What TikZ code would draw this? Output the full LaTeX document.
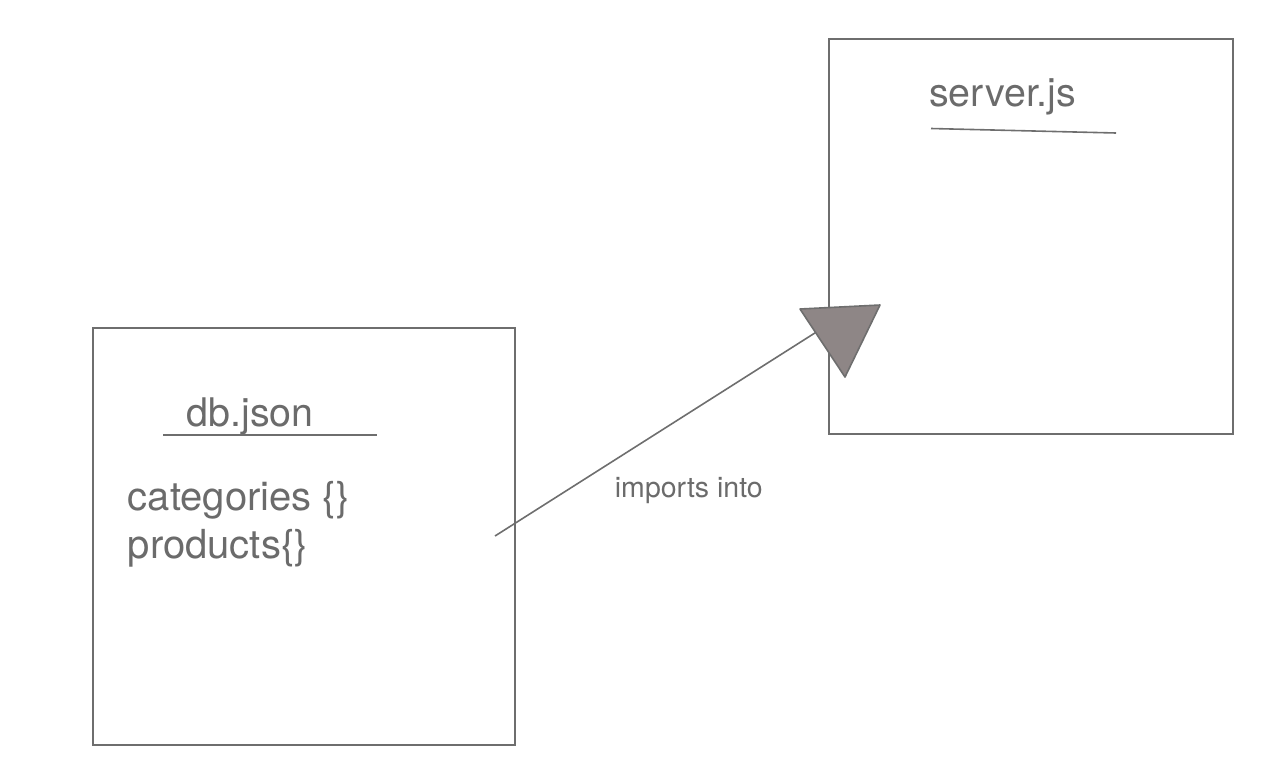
\documentclass[tikz,border=0pt]{standalone}
\usepackage{fontspec}
\setmainfont{TeX Gyre Heros}
\usetikzlibrary{calc}
\usepackage{xcolor}
\definecolor{inkgray}{HTML}{6E6E6E}
\definecolor{txtgray}{HTML}{6B6B6B}
\definecolor{headfill}{HTML}{8E8686}

\begin{document}
\begin{tikzpicture}[x=1pt,y=-1pt, line width=1.6pt,
  filebox/.style={draw=inkgray, rectangle, inner sep=0},
  title/.style={text=txtgray, inner sep=0, font=\fontsize{39.4}{46}\selectfont},
  entry/.style={text=txtgray, inner sep=0, anchor=base west, font=\fontsize{40}{48}\selectfont}]
\useasboundingbox (0,0) rectangle (1272,782);
\node[filebox, minimum width=422pt, minimum height=417pt] (db) at (304,536.5) {};
\node[filebox, minimum width=404pt, minimum height=395pt] (server) at (1031,236.5) {};
\node[title, anchor=base] (dbname) at (250,426) {db.json};
\node[title, anchor=base] (servername) at (1002.5,106) {server.js};
\draw[inkgray] (163,435) --++(214,0);
\draw[inkgray] (931,128.5) -- (1116,133);
\node[entry] (cats) at (127,510) {categories \{\}};
\node[entry] (prods) at (127,558) {products\{\}};
\coordinate (src) at (495,536);
\coordinate (dst) at (818,331);
\draw[inkgray] (src) -- (dst);
\filldraw[draw=inkgray, fill=headfill, line join=round] (800,309) -- (880,305) -- (845,377) -- cycle;
\node[text=txtgray, inner sep=0, anchor=base west, font=\fontsize{28.5}{32}\selectfont] (link) at (614,497) {imports into};
\end{tikzpicture}
\end{document}
